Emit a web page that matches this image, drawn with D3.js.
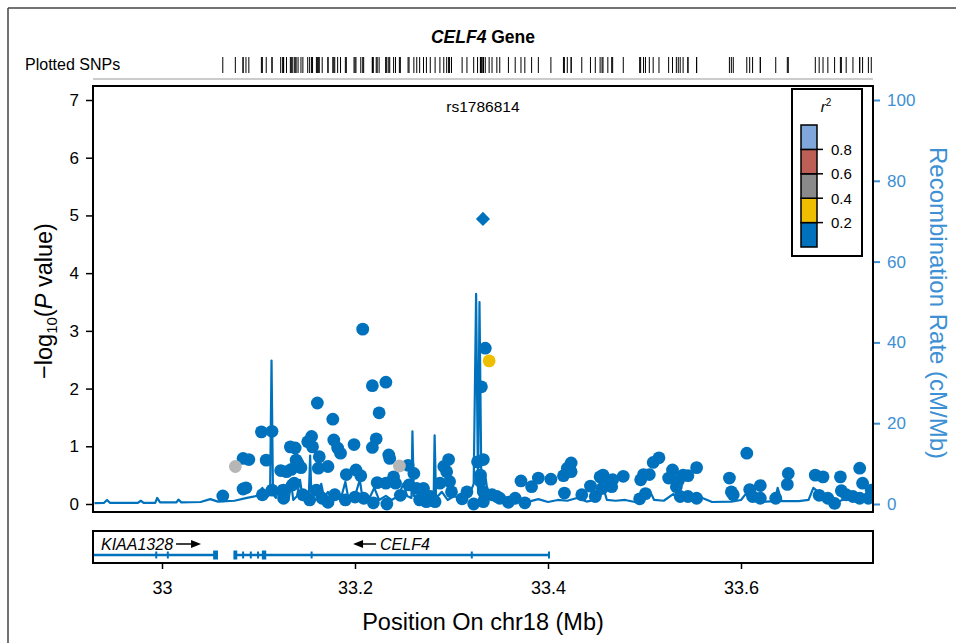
<!DOCTYPE html>
<html>
<head>
<meta charset="utf-8">
<script src="https://cdn.jsdelivr.net/npm/d3@7"></script>
<style>
  body { margin: 0; background: #fff; }
  text { font-family: "Liberation Sans", Arial, sans-serif; }
</style>
</head>
<body>
<svg id="chart" width="956" height="643"></svg>
<script>
// ---- data ----
var snpPos = [
  33.063,33.076,33.084,33.087,33.084,33.090,33.103,33.114,33.108,33.104,
  33.114,33.126,33.123,33.129,33.134,33.133,33.138,33.135,33.139,33.141,
  33.144,33.151,33.155,33.156,33.161,33.163,33.162,33.172,33.177,33.178,
  33.182,33.185,33.199,33.191,33.201,33.206,33.208,33.218,33.232,33.225,
  33.222,33.218,33.223,33.232,33.235,33.236,33.209,33.233,33.246,33.255,
  33.240,33.242,33.256,33.247,33.261,33.264,33.267,33.271,33.274,33.278,
  33.283,33.288,33.292,33.297,33.295,33.298,33.300,33.311,33.316,33.323,
  33.327,33.333,33.330,33.330,33.333,33.333,33.331,33.335,33.339,33.342,
  33.347,33.350,33.359,33.366,33.372,33.376,33.383,33.390,33.403,33.416,
  33.420,33.424,33.424,33.417,33.435,33.444,33.449,33.454,33.457,33.462,
  33.467,33.478,33.456,33.466,33.496,33.499,33.505,33.495,33.501,33.509,
  33.515,33.525,33.529,33.535,33.540,33.545,33.554,33.533,33.537,33.545,
  33.554,33.588,33.590,33.606,33.609,33.620,33.620,33.636,33.649,33.648,
  33.677,33.685,33.681,33.690,33.697,33.703,33.704,33.709,33.716,33.723,
  33.726,33.735,33.723,33.732,33.592,33.612,33.125,33.137,33.126,33.146,
  33.153,33.160,33.166,33.172,33.179,33.190,33.200,33.219
]
var snpLogP = [
  0.14,0.65,0.26,0.28,0.79,0.77,1.25,1.26,0.76,0.16,
  0.24,0.24,0.58,0.56,0.60,0.99,0.97,0.33,0.76,0.70,
  0.63,1.08,1.17,0.99,1.75,0.82,0.62,0.65,1.47,1.11,
  0.97,0.88,1.03,0.51,0.59,0.49,3.03,2.05,2.11,1.58,
  1.13,0.98,0.37,0.36,0.85,0.79,0.10,0.00,0.66,0.67,
  0.47,0.36,0.33,0.15,0.53,0.27,0.07,0.27,0.04,0.13,
  0.04,0.36,0.65,0.77,0.56,0.39,0.21,0.09,0.21,0.00,
  0.73,0.77,0.50,0.39,0.21,0.04,2.03,2.70,2.48,0.16,
  0.13,0.10,0.03,0.10,0.40,0.02,0.30,0.45,0.43,0.49,
  0.62,0.71,0.56,0.19,0.16,0.31,0.13,0.47,0.50,0.41,
  0.42,0.48,0.27,0.30,0.42,0.51,0.51,0.09,0.18,0.72,
  0.80,0.45,0.59,0.40,0.50,0.49,0.63,0.30,0.13,0.13,
  0.10,0.45,0.21,0.88,0.25,0.32,0.10,0.10,0.53,0.34,
  0.50,0.47,0.15,0.10,0.01,0.47,0.23,0.16,0.13,0.62,
  0.36,0.24,0.10,0.10,0.16,0.13,0.23,0.36,0.10,0.16,
  0.07,0.24,0.10,0.03,0.16,0.07,0.12,0.02
]
var snpR2 = [
  0.1,0.5,0.1,0.1,0.1,0.1,0.1,0.1,0.1,0.1,
  0.1,0.1,0.1,0.1,0.1,0.1,0.1,0.1,0.1,0.1,
  0.1,0.1,0.1,0.1,0.1,0.1,0.1,0.1,0.1,0.1,
  0.1,0.1,0.1,0.1,0.1,0.1,0.1,0.1,0.1,0.1,
  0.1,0.1,0.1,0.1,0.1,0.1,0.1,0.1,0.5,0.1,
  0.1,0.1,0.1,0.1,0.1,0.1,0.1,0.1,0.1,0.1,
  0.1,0.1,0.1,0.1,0.1,0.1,0.1,0.1,0.1,0.1,
  0.1,0.1,0.1,0.1,0.1,0.1,0.1,0.1,0.3,0.1,
  0.1,0.1,0.1,0.1,0.1,0.1,0.1,0.1,0.1,0.1,
  0.1,0.1,0.1,0.1,0.1,0.1,0.1,0.1,0.1,0.1,
  0.1,0.1,0.1,0.1,0.1,0.1,0.1,0.1,0.1,0.1,
  0.1,0.1,0.1,0.1,0.1,0.1,0.1,0.1,0.1,0.1,
  0.1,0.1,0.1,0.1,0.1,0.1,0.1,0.1,0.1,0.1,
  0.1,0.1,0.1,0.1,0.1,0.1,0.1,0.1,0.1,0.1,
  0.1,0.1,0.1,0.1,0.1,0.1,0.1,0.1,0.1,0.1,
  0.1,0.1,0.1,0.1,0.1,0.1,0.1,0.1
]

var leadSnp = "rs1786814"
var leadPos = 33.3326
var leadLogP = 4.94

// recombination rate (cM/Mb)
var recPos = [
  32.930,32.940,32.943,32.946,32.975,32.978,32.981,32.993,32.995,32.998,
  33.015,33.017,33.020,33.040,33.050,33.058,33.075,33.088,33.098,33.104,
  33.108,33.112,33.1135,33.115,33.118,33.122,33.125,33.128,33.131,33.134,
  33.136,33.140,33.143,33.146,33.152,33.1535,33.155,33.158,33.161,33.165,
  33.168,33.172,33.176,33.180,33.185,33.190,33.193,33.200,33.205,33.208,
  33.215,33.220,33.225,33.232,33.238,33.245,33.250,33.254,33.2585,33.2595,
  33.261,33.268,33.275,33.279,33.2815,33.2825,33.284,33.290,33.296,33.303,
  33.310,33.318,33.323,33.3255,33.3275,33.329,33.331,33.335,33.338,33.342,
  33.347,33.352,33.360,33.370,33.380,33.390,33.400,33.410,33.420,33.430,
  33.440,33.452,33.458,33.461,33.470,33.480,33.490,33.500,33.505,33.510,
  33.520,33.530,33.535,33.545,33.550,33.560,33.570,33.590,33.600,33.605,
  33.610,33.620,33.635,33.638,33.642,33.660,33.670,33.675,33.680,33.690,
  33.700,33.710,33.720,33.730,33.737
]
var recRate = [
  0.2,0.3,1.0,0.3,0.3,0.8,0.3,0.3,1.5,0.4,
  0.4,1.1,0.4,0.5,1.2,0.6,0.8,1.5,2.0,4.0,
  1.5,2.5,35.5,2.5,1.5,4.5,1.0,3.0,1.0,5.0,
  1.0,2.0,6.0,1.0,1.0,12.0,1.0,4.5,1.0,5.0,
  1.5,3.0,1.0,3.5,1.0,5.5,1.5,2.0,6.0,1.0,
  1.5,4.0,1.0,2.0,1.0,2.0,5.0,2.0,1.5,18.0,
  2.0,1.5,3.5,1.0,1.5,17.0,1.5,3.0,1.0,2.0,
  1.0,2.0,5.0,52.0,3.0,50.0,4.0,7.0,2.0,1.5,
  3.0,1.0,0.8,1.0,0.6,1.2,0.5,1.0,0.8,1.5,
  0.6,1.2,3.5,1.0,0.8,1.0,0.5,1.5,3.5,1.0,
  0.8,2.5,1.0,3.0,0.8,1.5,0.5,0.6,1.0,2.5,
  0.8,0.5,0.7,4.0,0.7,0.7,1.0,4.0,3.0,1.5,
  0.5,1.5,0.5,1.0,0.5
]

var geneNames = ["KIAA1328", "CELF4"]
var geneStart = [32.90, 33.0756]
var geneEnd = [33.057, 33.401]
var exonStart = [
  [32.993, 33.005, 33.053],
  [33.074, 33.083, 33.091, 33.0985, 33.1035, 33.154, 33.320, 33.400]
]
var exonEnd = [
  [32.995, 33.007, 33.058],
  [33.078, 33.085, 33.093, 33.1005, 33.108, 33.156, 33.322, 33.402]
]

var yTicks = [0, 1, 2, 3, 4, 5, 6, 7]
var recTicks = [0, 20, 40, 60, 80, 100]
var xTicks = [33, 33.2, 33.4, 33.6]
var r2Breaks = [0, 0.2, 0.4, 0.6, 0.8, 1]
var r2LegendColors = ["#0072bd", "#eebe00", "#8a8a8a", "#bd5f57", "#7fa7db"]
var r2DotColors = ["#0072bd", "#eebe00", "#b6b6b6", "#bd5f57", "#7fa7db"]

// ---- layout ----
var svg = d3.select("#chart")
var plot = {left: 93, right: 873, top: 86, bottom: 512}
var blue = "#0072bd"
var recBlue = "#3d90d3"

var x = d3.scaleLinear().domain([33, 33.6]).range([162, 741])
var y = d3.scaleLinear().domain([0, 7]).range([504, 100])
var yRec = d3.scaleLinear().domain([0, 100]).range([504, 100])
var r2Bin = d3.scaleThreshold().domain(r2Breaks.slice(1, -1)).range([0, 1, 2, 3, 4])

// outer figure border
svg.append("line").attr("x1", 8).attr("x2", 956).attr("y1", 8).attr("y2", 8)
   .attr("stroke", "#444").attr("stroke-width", 1.5)
svg.append("line").attr("x1", 8).attr("x2", 8).attr("y1", 8).attr("y2", 643)
   .attr("stroke", "#444").attr("stroke-width", 1.5)

// title
var title = svg.append("text").attr("x", 483).attr("y", 43)
   .attr("text-anchor", "middle").attr("font-size", 17.5).attr("font-weight", "bold")
title.append("tspan").attr("font-style", "italic").text("CELF4")
title.append("tspan").text(" Gene")

// plotted SNPs rug
svg.append("text").attr("x", 25).attr("y", 70).attr("font-size", 16).text("Plotted SNPs")
svg.append("g").selectAll("line")
   .data(snpPos.concat([leadPos]))
   .enter().append("line")
   .attr("x1", d => x(d)).attr("x2", d => x(d))
   .attr("y1", 57).attr("y2", 73)
   .attr("stroke", "#000").attr("stroke-width", 1)
svg.append("line").attr("x1", plot.left).attr("x2", plot.right).attr("y1", 79).attr("y2", 79)
   .attr("stroke", "#999").attr("stroke-width", 1)

// clip
svg.append("clipPath").attr("id", "clip").append("rect")
   .attr("x", plot.left).attr("y", plot.top)
   .attr("width", plot.right - plot.left).attr("height", plot.bottom - plot.top)

var inner = svg.append("g").attr("clip-path", "url(#clip)")

// recombination line
var recLine = d3.line().x(d => x(d[0])).y(d => yRec(d[1]))
inner.append("path")
   .datum(recPos.map((p, i) => [p, recRate[i]]))
   .attr("d", recLine)
   .attr("fill", "none").attr("stroke", blue).attr("stroke-width", 2.2)
   .attr("stroke-linejoin", "round")

// points
var pts = snpPos.map((p, i) => ({pos: p, logp: snpLogP[i], r2: snpR2[i]}))
pts.sort((a, b) => a.r2 - b.r2)
inner.append("g").selectAll("circle")
   .data(pts).enter().append("circle")
   .attr("cx", d => x(d.pos)).attr("cy", d => y(d.logp))
   .attr("r", 6.4)
   .attr("fill", d => r2DotColors[r2Bin(d.r2)])

// lead SNP (diamond)
inner.append("path")
   .attr("d", d3.symbol().type(d3.symbolSquare).size(100))
   .attr("transform", "translate(" + x(leadPos) + "," + y(leadLogP) + ") rotate(45)")
   .attr("fill", blue)
svg.append("text").attr("x", x(leadPos)).attr("y", 112)
   .attr("text-anchor", "middle").attr("font-size", 15.5).text(leadSnp)

// frame
svg.append("rect").attr("x", plot.left).attr("y", plot.top)
   .attr("width", plot.right - plot.left).attr("height", plot.bottom - plot.top)
   .attr("fill", "none").attr("stroke", "#000").attr("stroke-width", 2)

// left axis
var yAxis = svg.append("g").attr("transform", "translate(" + (plot.left - 1) + ",0)")
   .call(d3.axisLeft(y).tickValues(yTicks).tickSize(6).tickPadding(7).tickFormat(d3.format("d")))
yAxis.select(".domain").remove()
yAxis.selectAll("line").attr("stroke", "#000").attr("stroke-width", 1.5)
yAxis.selectAll("text").attr("font-size", 17).attr("fill", "#000")
   .style("font-family", "'Liberation Sans', Arial, sans-serif")

// right axis
var rAxis = svg.append("g").attr("transform", "translate(" + (plot.right + 1) + ",0)")
   .call(d3.axisRight(yRec).tickValues(recTicks).tickSize(6).tickPadding(7))
rAxis.select(".domain").remove()
rAxis.selectAll("line").attr("stroke", recBlue).attr("stroke-width", 2)
rAxis.selectAll("text").attr("font-size", 17).attr("fill", recBlue)
   .style("font-family", "'Liberation Sans', Arial, sans-serif")

// axis titles
var yt = svg.append("text").attr("transform", "translate(52,301) rotate(-90)")
   .attr("text-anchor", "middle").attr("font-size", 23.5)
yt.append("tspan").text("\u2212log")
yt.append("tspan").attr("font-size", 15).attr("dy", 5).text("10")
yt.append("tspan").attr("dy", -5).text("(")
yt.append("tspan").attr("font-style", "italic").text("P")
yt.append("tspan").text(" value)")

svg.append("text").attr("transform", "translate(930,303) rotate(90)")
   .attr("text-anchor", "middle").attr("font-size", 24).attr("fill", recBlue)
   .text("Recombination Rate (cM/Mb)")

// legend
var lg = svg.append("g")
lg.append("rect").attr("x", 792).attr("y", 89).attr("width", 70).attr("height", 167)
   .attr("fill", "#fff").attr("stroke", "#000").attr("stroke-width", 2)
var lgText = lg.append("text").attr("x", 826).attr("y", 112).attr("text-anchor", "middle")
   .attr("font-size", 15).attr("font-style", "italic")
lgText.append("tspan").text("r")
lgText.append("tspan").attr("dy", -6).attr("font-size", 10).attr("font-style", "normal").text("2")
var lgScale = d3.scaleLinear().domain([0, 1]).range([247, 125])
lg.selectAll(".bin").data(r2LegendColors).enter().append("rect")
   .attr("x", 801).attr("width", 16)
   .attr("y", (d, i) => lgScale(r2Breaks[i + 1]))
   .attr("height", (d, i) => lgScale(r2Breaks[i]) - lgScale(r2Breaks[i + 1]))
   .attr("fill", d => d).attr("stroke", "#000").attr("stroke-width", 1.5)
lg.selectAll(".tk").data(r2Breaks.slice(1, -1)).enter().append("line")
   .attr("x1", 817).attr("x2", 823)
   .attr("y1", d => lgScale(d)).attr("y2", d => lgScale(d))
   .attr("stroke", "#000").attr("stroke-width", 1.5)
lg.selectAll(".lb").data(r2Breaks.slice(1, -1)).enter().append("text")
   .attr("x", 831).attr("y", d => lgScale(d) + 5.5)
   .attr("font-size", 15).text(d => d3.format(".1f")(d))

// gene track
var gTop = 531, gBot = 563, gLine = 555
svg.append("clipPath").attr("id", "gclip").append("rect")
   .attr("x", plot.left).attr("y", gTop).attr("width", plot.right - plot.left).attr("height", gBot - gTop)
var gt = svg.append("g").attr("clip-path", "url(#gclip)")
geneNames.forEach((name, gi) => {
  gt.append("line").attr("x1", x(geneStart[gi])).attr("x2", x(geneEnd[gi]))
    .attr("y1", gLine).attr("y2", gLine).attr("stroke", blue).attr("stroke-width", 2.5)
  exonStart[gi].forEach((s, ei) => {
    var w = Math.max(2, x(exonEnd[gi][ei]) - x(s))
    var h = w > 3 ? 9 : 7
    gt.append("rect").attr("x", x(s)).attr("y", gLine - h / 2).attr("width", w).attr("height", h)
      .attr("fill", blue)
  })
})
svg.append("rect").attr("x", plot.left).attr("y", gTop)
   .attr("width", plot.right - plot.left).attr("height", gBot - gTop)
   .attr("fill", "none").attr("stroke", "#000").attr("stroke-width", 2)

// gene labels with strand arrows
function arrow(x1, x2, yy) {
  var dir = x2 > x1 ? 1 : -1
  svg.append("line").attr("x1", x1).attr("x2", x2 - dir * 6).attr("y1", yy).attr("y2", yy)
     .attr("stroke", "#000").attr("stroke-width", 1.5)
  svg.append("path")
     .attr("d", "M" + x2 + "," + yy + "L" + (x2 - dir * 10) + "," + (yy - 4) + "L" + (x2 - dir * 10) + "," + (yy + 4) + "Z")
     .attr("fill", "#000")
}
var k = svg.append("text").attr("x", plot.left + 8).attr("y", 550)
   .attr("font-size", 16).attr("font-style", "italic").text(geneNames[0])
var kw = k.node().getComputedTextLength()
arrow(plot.left + 8 + kw + 3, plot.left + 8 + kw + 28, 544)

var cMid = x((geneStart[1] + geneEnd[1]) / 2)
var c = svg.append("text").attr("x", cMid + 13).attr("y", 550).attr("text-anchor", "middle")
   .attr("font-size", 16).attr("font-style", "italic").text(geneNames[1])
var cw = c.node().getComputedTextLength()
arrow(cMid + 13 - cw / 2 - 4, cMid + 13 - cw / 2 - 27, 544)

// x axis
var xAxis = svg.append("g").attr("transform", "translate(0," + (gBot + 1) + ")")
   .call(d3.axisBottom(x).tickValues(xTicks).tickSize(5).tickPadding(12).tickFormat(d => d))
xAxis.select(".domain").remove()
xAxis.selectAll("line").attr("stroke", "#000").attr("stroke-width", 1.5)
xAxis.selectAll("text").attr("font-size", 18).attr("fill", "#000")
   .style("font-family", "'Liberation Sans', Arial, sans-serif")

svg.append("text").attr("x", 483).attr("y", 630).attr("text-anchor", "middle")
   .attr("font-size", 23.5).text("Position On chr18 (Mb)")
</script>
</body>
</html>
